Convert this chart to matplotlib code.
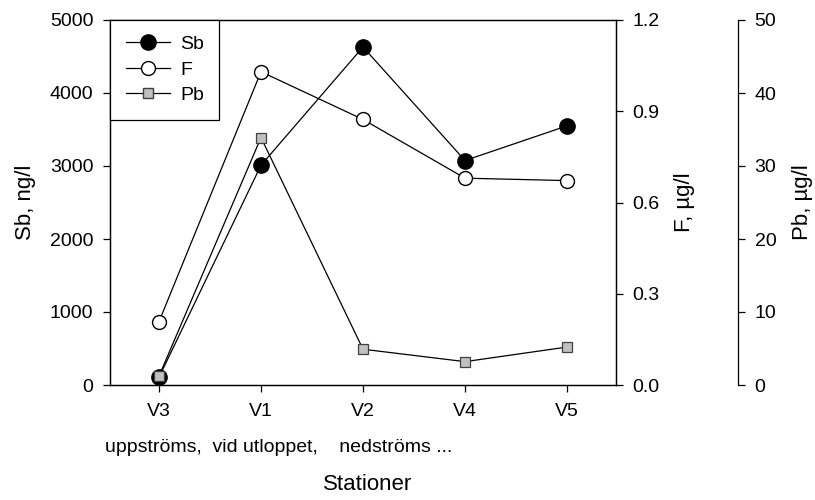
import matplotlib
matplotlib.use("Agg")
import matplotlib.pyplot as plt
from matplotlib.lines import Line2D

plt.rcParams['font.family'] = ['Liberation Sans', 'DejaVu Sans']
plt.rcParams['font.size'] = 14

stations = ["V3", "V1", "V2", "V4", "V5"]
sb_ng_l = [105, 3010, 4630, 3075, 3550]
f_ug_l = [0.208, 1.03, 0.873, 0.68, 0.672]
pb_ug_l = [1.2, 33.9, 4.9, 3.2, 5.2]
descriptions = "uppströms,  vid utloppet,    nedströms ..."

x = list(range(len(stations)))

fig = plt.figure(figsize=(8.15, 5.0), dpi=100)
ax = fig.add_axes([110 / 815, 115 / 500, 506 / 815, 365 / 500])
ax_f = ax.twinx()
ax_pb = ax.twinx()

lw = 0.9
ax.plot(x, sb_ng_l, color="black", lw=lw, marker="o", markersize=11,
        markerfacecolor="black", markeredgecolor="black", zorder=3)
ax_f.plot(x, f_ug_l, color="black", lw=lw, marker="o", markersize=10,
          markerfacecolor="white", markeredgecolor="black", markeredgewidth=1.0)
ax_pb.plot(x, pb_ug_l, color="black", lw=lw, marker="s", markersize=7.5,
           markerfacecolor="#c0c0c0", markeredgecolor="#404040", markeredgewidth=0.9)

ax.set_xlim(-0.48, 4.48)
ax.set_ylim(0, 5000)
ax_f.set_ylim(0, 1.2)
ax_pb.set_ylim(0, 50)

ax.set_xticks(x)
ax.set_xticklabels(stations)
ax.set_yticks(range(0, 5001, 1000))
ax_f.set_yticks([0.0, 0.3, 0.6, 0.9, 1.2])
ax_f.set_yticklabels(["0.0", "0.3", "0.6", "0.9", "1.2"])
ax_pb.set_yticks(range(0, 51, 10))

for a in (ax, ax_f, ax_pb):
    a.tick_params(direction="out", length=5, width=0.9, pad=7, colors="black")
    for s in a.spines.values():
        s.set_linewidth(0.9)
ax.tick_params(axis="x", pad=8)

ax_pb.spines["right"].set_position(("axes", (738 - 110) / 506))
for side in ("left", "top", "bottom"):
    ax_pb.spines[side].set_visible(False)

ax.set_ylabel("Sb, ng/l", fontsize=16, labelpad=10)
ax_f.set_ylabel("F, µg/l", fontsize=16, labelpad=10)
ax_pb.set_ylabel("Pb, µg/l", fontsize=16, labelpad=11)

fig.text(279 / 815, 1 - 447 / 500, descriptions, ha="center", va="center",
         fontsize=14)
fig.text(368 / 815, 1 - 484 / 500, "Stationer", ha="center", va="center",
         fontsize=16)

handles = [
    Line2D([], [], color="black", lw=lw, marker="o", markersize=11,
           markerfacecolor="black", markeredgecolor="black"),
    Line2D([], [], color="black", lw=lw, marker="o", markersize=10,
           markerfacecolor="white", markeredgecolor="black"),
    Line2D([], [], color="black", lw=lw, marker="s", markersize=7.5,
           markerfacecolor="#c0c0c0", markeredgecolor="#404040"),
]
leg = ax_pb.legend(handles, ["Sb", "F", "Pb"], loc="upper left",
                   bbox_to_anchor=(0, 1), bbox_transform=ax.transAxes,
                   borderaxespad=0, fancybox=False, framealpha=1,
                   edgecolor="black", handlelength=2.3, handletextpad=0.5,
                   labelspacing=0.4, borderpad=0.8)
leg.get_frame().set_linewidth(0.9)

fig.savefig("out.png", dpi=100)
